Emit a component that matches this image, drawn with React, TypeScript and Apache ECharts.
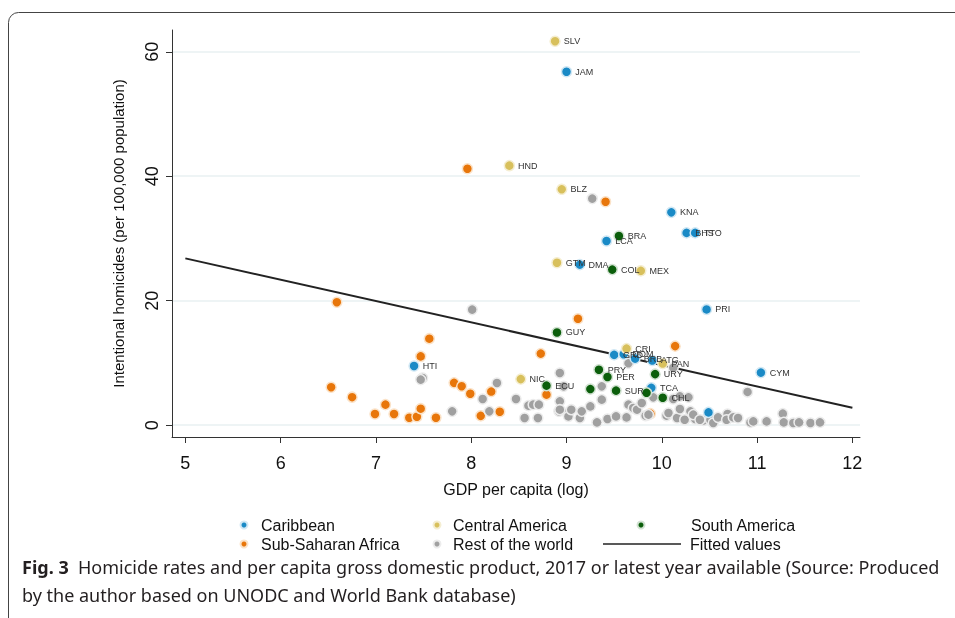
import React, { useEffect, useRef } from "react";
import * as echarts from "echarts";

const xTicks = [5, 6, 7, 8, 9, 10, 11, 12];
const yTicks = [0, 20, 40, 60];

const caribbeanCodes = ["JAM", "KNA", "BHS", "TTO", "LCA", "DMA", "PRI", "GRD", "DOM", "BRB", "ATG", "HTI", "CYM", "TCA", ""];
const caribbeanX = [9.0, 10.1, 10.26, 10.35, 9.42, 9.14, 10.47, 9.5, 9.6, 9.72, 9.9, 7.4, 11.04, 9.89, 10.49];
const caribbeanY = [56.8, 34.2, 30.9, 30.9, 29.6, 25.8, 18.6, 11.3, 11.4, 10.7, 10.4, 9.5, 8.45, 6.0, 2.05];

const centralCodes = ["SLV", "HND", "BLZ", "GTM", "MEX", "CRI", "PAN", "NIC"];
const centralX = [8.88, 8.4, 8.95, 8.9, 9.78, 9.63, 10.01, 8.52];
const centralY = [61.7, 41.7, 37.9, 26.1, 24.8, 12.3, 9.9, 7.4];

const southCodes = ["BRA", "COL", "GUY", "PRY", "PER", "URY", "ECU", "", "SUR", "", "CHL"];
const southX = [9.55, 9.48, 8.9, 9.34, 9.43, 9.93, 8.79, 9.25, 9.52, 9.84, 10.01];
const southY = [30.4, 25.0, 14.9, 8.9, 7.75, 8.2, 6.35, 5.8, 5.55, 5.2, 4.4];

const africaX = [6.59, 7.56, 7.47, 6.53, 6.75, 6.99, 7.1, 7.19, 7.35, 7.43, 7.47, 7.63, 7.82, 7.9, 7.99, 8.21, 8.3, 8.1, 8.73, 8.79, 9.12, 7.96, 9.41, 10.14, 9.88];
const africaY = [19.75, 13.9, 11.05, 6.1, 4.5, 1.8, 3.3, 1.8, 1.2, 1.35, 2.65, 1.2, 6.8, 6.25, 5.05, 5.4, 2.15, 1.5, 11.5, 4.9, 17.1, 41.2, 35.9, 12.7, 1.85];

const restX = [8.01, 9.27, 7.49, 7.47, 8.27, 8.12, 7.8, 8.19, 8.47, 8.93, 8.97, 8.93, 8.6, 8.65, 8.71, 8.56, 8.7, 8.92, 9.01, 9.02, 9.05, 9.14, 9.16, 9.25, 9.32, 9.37, 9.37, 9.43, 9.52, 9.63, 9.65, 9.65, 9.7, 9.74, 9.79, 9.83, 9.86, 9.91, 10.05, 10.07, 10.12, 10.12, 10.16, 10.19, 10.19, 10.24, 10.28, 10.3, 10.35, 10.33, 10.44, 10.51, 10.54, 10.59, 10.69, 10.68, 10.75, 10.8, 10.9, 10.93, 10.96, 11.1, 11.27, 11.28, 11.38, 11.44, 11.56, 11.66, 8.93, 10.4];
const restY = [18.57, 36.41, 7.59, 7.32, 6.78, 4.21, 2.22, 2.22, 4.21, 8.39, 6.24, 3.83, 3.14, 3.3, 3.3, 1.16, 1.16, 2.22, 1.96, 1.41, 2.49, 1.16, 2.22, 3.02, 0.45, 6.24, 4.1, 1.0, 1.41, 1.25, 3.3, 9.94, 2.77, 2.49, 3.57, 1.53, 1.69, 4.47, 1.53, 1.96, 9.24, 4.21, 1.16, 4.63, 2.6, 0.88, 4.47, 2.22, 1.0, 1.69, 0.77, 0.88, 0.35, 1.25, 1.8, 0.88, 1.25, 1.16, 5.34, 0.45, 0.61, 0.61, 1.85, 0.45, 0.35, 0.45, 0.35, 0.45, 2.49, 0.88];

const fittedX = [5, 12];
const fittedY = [26.8, 2.8];

const FONT = "'Liberation Sans', Arial, sans-serif";
const CAPTION_FONT = "'Noto Sans', 'Open Sans', sans-serif";

function pts(xs: number[], ys: number[], codes?: string[]) {
  return xs.map((x, i) => ({ value: [x, ys[i]], name: codes ? codes[i] : "" }));
}

function scatter(name: string, data: any[], color: string, halo: string, labelled: boolean) {
  return {
    name,
    type: "scatter",
    data,
    symbol: "circle",
    symbolSize: 10,
    itemStyle: { color, borderColor: halo, borderWidth: 1.5, opacity: 1 },
    label: {
      show: labelled,
      position: "right",
      distance: 3,
      formatter: "{b}",
      fontSize: 9,
      fontFamily: FONT,
      color: "#333",
    },
    emphasis: { disabled: true },
  };
}

export default function App() {
  const ref = useRef<HTMLDivElement>(null);
  useEffect(() => {
    if (!ref.current) return;
    const chart = echarts.init(ref.current, null, { renderer: "svg" });
    const mkLegend = (name: string, left: number, top: number, w: number, h: number, pad: number, icon?: string) => ({
      data: [name],
      left,
      top,
      padding: 0,
      itemWidth: w,
      itemHeight: h,
      icon: icon || "circle",
      textStyle: { fontSize: 16, color: "#111", fontFamily: FONT, padding: [0, 0, 0, pad] },
      selectedMode: false,
    });
    chart.setOption({
      animation: false,
      textStyle: { fontFamily: FONT },
      grid: { left: 172, right: 95, top: 30, bottom: 181 },
      xAxis: {
        type: "value",
        min: 4.86,
        max: 12.08,
        name: "GDP per capita (log)",
        nameLocation: "middle",
        nameGap: 44,
        nameTextStyle: { fontSize: 16, color: "#111", fontFamily: FONT },
        axisLine: { show: true, onZero: false, lineStyle: { color: "#333", width: 1 } },
        axisTick: { show: true, customValues: xTicks, length: 6, lineStyle: { color: "#333" } },
        axisLabel: { customValues: xTicks, fontSize: 18, color: "#111", margin: 17, fontFamily: FONT },
        splitLine: { show: false },
      },
      yAxis: {
        type: "value",
        min: -1.9,
        max: 63.5,
        name: "Intentional homicides (per 100,000 population)",
        nameLocation: "middle",
        nameGap: 46,
        nameTextStyle: { fontSize: 15, color: "#111", fontFamily: FONT },
        axisLine: { show: true, onZero: false, lineStyle: { color: "#333", width: 1 } },
        axisTick: { show: true, customValues: yTicks, length: 6, lineStyle: { color: "#333" } },
        axisLabel: { customValues: yTicks, fontSize: 18, color: "#111", margin: 11, rotate: 90, fontFamily: FONT },
        splitLine: { show: true, lineStyle: { color: "#e8f0f2", width: 1.5 } },
      },
      legend: [
        mkLegend("Caribbean", 239.5, 517, 7, 7, 8.5),
        mkLegend("Central America", 432.5, 517, 7, 7, 7.5),
        mkLegend("South America", 636.5, 517, 7, 7, 41.5),
        mkLegend("Sub-Saharan Africa", 239.5, 536, 7, 7, 8.5),
        mkLegend("Rest of the world", 432.5, 536, 7, 7, 7.5),
        mkLegend("Fitted values", 603, 536, 78, 1.5, 4, "rect"),
      ],
      series: [
        scatter("Sub-Saharan Africa", pts(africaX, africaY), "#e8760a", "#fbe3c9", false),
        scatter("Rest of the world", pts(restX, restY), "#a0a0a0", "#ececec", false),
        scatter("Caribbean", pts(caribbeanX, caribbeanY, caribbeanCodes), "#1a8ac6", "#d2e8f4", true),
        scatter("Central America", pts(centralX, centralY, centralCodes), "#d8c05c", "#f5eed2", true),
        scatter("South America", pts(southX, southY, southCodes), "#0b5e0b", "#d3e3d3", true),
        {
          name: "Fitted values",
          type: "line",
          data: fittedX.map((x, i) => [x, fittedY[i]]),
          showSymbol: false,
          symbol: "none",
          lineStyle: { color: "#222", width: 2 },
          itemStyle: { color: "#222" },
          emphasis: { disabled: true },
          z: 1,
        },
      ],
      graphic: [
        {
          type: "rect",
          shape: { x: 8.5, y: 12.5, width: 1000, height: 700, r: 10 },
          style: { fill: "none", stroke: "#444", lineWidth: 1 },
          silent: true,
        },
        {
          type: "text",
          left: 22,
          top: 558,
          style: {
            text: "{b|Fig. 3}  Homicide rates and per capita gross domestic product, 2017 or latest year available (Source: Produced",
            fontSize: 18,
            fontFamily: CAPTION_FONT,
            fill: "#231f20",
            rich: { b: { fontWeight: "bold", fontSize: 18, fontFamily: CAPTION_FONT, fill: "#231f20" } },
          },
        },
        {
          type: "text",
          left: 22,
          top: 586,
          style: {
            text: "by the author based on UNODC and World Bank database)",
            fontSize: 18,
            fontFamily: CAPTION_FONT,
            fill: "#231f20",
          },
        },
      ],
    });
    return () => chart.dispose();
  }, []);
  return <div ref={ref} style={{ position: "fixed", left: 0, top: 0, width: 955, height: 618 }} />;
}
